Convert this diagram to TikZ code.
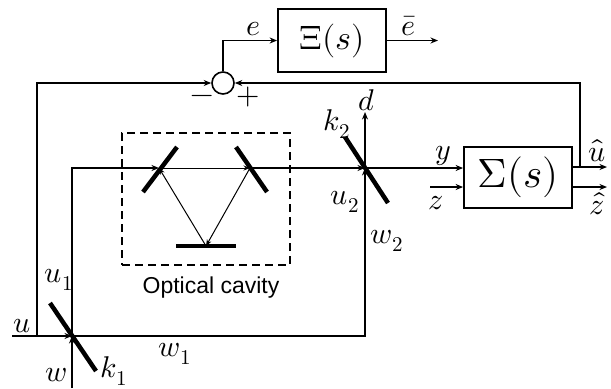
\documentclass[tikz,border=0pt]{standalone}
\usepackage{fontspec}
\usepackage{unicode-math}
\setsansfont{Liberation Sans}
\usetikzlibrary{arrows.meta}
\begin{document}
\begin{tikzpicture}[x=1bp,y=-1bp,
  every node/.style={font=\fontsize{30bp}{34bp}\selectfont},
  wire/.style={line width=1.6bp},
  arr/.style={wire,-{Stealth[length=7.5bp,width=6bp]}},
  beam/.style={line width=1bp,-{Stealth[length=6.5bp,width=5bp]}},
  mirror/.style={line width=4.5bp},
  blk/.style={draw,line width=1.8bp,inner sep=0pt},
  lab/.style={inner sep=0pt}]
\useasboundingbox (0,0) rectangle (611,388);
% blocks
\node[blk,minimum width=108bp,minimum height=63bp] (xi) at (332,40.5) {\fontsize{34bp}{38bp}\selectfont$\Xi(s)$};
\node[blk,minimum width=108bp,minimum height=61bp] (sig) at (518,177.5) {\fontsize{41bp}{45bp}\selectfont$\Sigma(s)$};
\node[draw,circle,wire,minimum size=22bp,inner sep=0pt] (sum) at (223,83) {};
\node[draw,wire,dash pattern=on 8bp off 5bp,minimum width=168bp,minimum height=132bp,inner sep=0pt] (cav) at (206,199) {};
% mirrors
\coordinate (k1) at (72,336);
\coordinate (k1a) at (50,303); \coordinate (k1b) at (96,371);
\coordinate (k2) at (365,168);
\coordinate (k2a) at (345,137); \coordinate (k2b) at (388,203);
\coordinate (mA) at (159,168);
\coordinate (mAa) at (143,192); \coordinate (mAb) at (177,147);
\coordinate (mB) at (250,168);
\coordinate (mBa) at (236,147); \coordinate (mBb) at (267,192);
\coordinate (mC) at (206,246);
\coordinate (mCa) at (176,246); \coordinate (mCb) at (236,246);
\draw[mirror] (k1a) -- (k1b);
\draw[mirror] (k2a) -- (k2b);
\draw[mirror] (mAa) -- (mAb);
\draw[mirror] (mBa) -- (mBb);
\draw[mirror] (mCa) -- (mCb);
% helper points
\coordinate (uin) at (12,336);
\coordinate (ubr) at (37,336);
\coordinate (win) at (72,388);
\coordinate (c1) at (72,168);
\coordinate (c2) at (365,336);
\coordinate (dtop) at (365,112);
\coordinate (zin) at (430,187);
\coordinate (uout) at (607,167);
\coordinate (zout) at (607,187);
\coordinate (fb) at (580,167);
\coordinate (ebar) at (438,40.5);
% connectors
\draw[arr] (uin) -- (k1);
\draw[arr] (ubr) |- (sum.west);
\draw[arr] (win) -- (k1);
\draw[arr] (k1) -- (c1) -- (mA);
\draw[beam] (mA) -- (mB);
\draw[beam] (mB) -- (mC);
\draw[beam] (mC) -- (mA);
\draw[arr] (mB) -- (k2);
\draw[arr] (k1) -- (c2) -- (k2);
\draw[arr] (k2) -- (dtop);
\draw[arr] (k2) -- (sig.west |- k2);
\draw[arr] (zin) -- (sig.west |- zin);
\draw[arr] (sig.east |- uout) -- (uout);
\draw[arr] (sig.east |- zout) -- (zout);
\draw[arr] (fb) |- (sum.east);
\draw[arr] (sum.north) |- (xi.west);
\draw[arr] (xi.east) -- (ebar);
% labels
\node[lab] (le) at (253,29) {$e$};
\node[lab] (leb) at (408,26) {$\bar{e}$};
\node[lab] (lminus) at (202,99) {$-$};
\node[lab] (lplus) at (248,97) {$+$};
\node[lab] (ld) at (367,100) {$d$};
\node[lab] (lk2) at (337,124) {$k_2$};
\node[lab] (ly) at (443,156) {$y$};
\node[lab] (lz) at (436,203) {$z$};
\node[lab] (luh) at (597,151) {$\hat{u}$};
\node[lab] (lzh) at (597,204) {$\hat{z}$};
\node[lab] (lu2) at (345,202) {$u_2$};
\node[lab] (lw2) at (387,241) {$w_2$};
\node[lab] (lu1) at (59,280) {$u_1$};
\node[lab] (lu) at (22,326) {$u$};
\node[lab] (lw1) at (175,354) {$w_1$};
\node[lab] (lw) at (56,375) {$w$};
\node[lab] (lk1) at (114,371) {$k_1$};
\node[lab,font=\sffamily\fontsize{23bp}{27bp}\selectfont] (lcav) at (211,288) {Optical cavity};
\end{tikzpicture}
\end{document}
